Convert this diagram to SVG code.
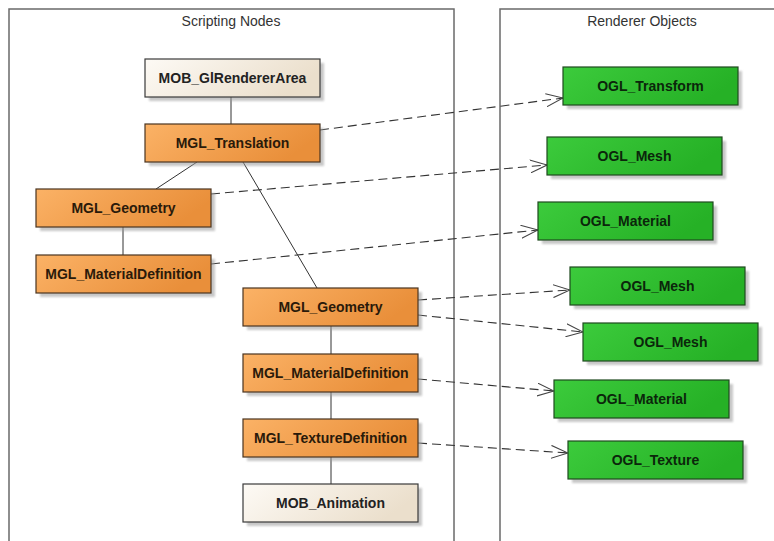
<svg xmlns="http://www.w3.org/2000/svg" width="774" height="541" viewBox="0 0 774 541">
  <defs>
    <linearGradient id="gOrange" x1="0" y1="0" x2="1" y2="0.3">
      <stop offset="0" stop-color="#fbb266"/>
      <stop offset="1" stop-color="#e98f3a"/>
    </linearGradient>
    <linearGradient id="gCream" x1="0" y1="0" x2="1" y2="0.3">
      <stop offset="0" stop-color="#fdfaf5"/>
      <stop offset="1" stop-color="#ebdfcc"/>
    </linearGradient>
    <linearGradient id="gGreen" x1="0" y1="0" x2="1" y2="0.3">
      <stop offset="0" stop-color="#3ccb3c"/>
      <stop offset="1" stop-color="#26b126"/>
    </linearGradient>
    <filter id="soft" x="-10%" y="-10%" width="130%" height="140%">
      <feGaussianBlur stdDeviation="1.2"/>
    </filter>
    <marker id="open" viewBox="0 0 17 14" refX="17" refY="7" markerWidth="17" markerHeight="14" markerUnits="userSpaceOnUse" orient="auto">
      <path d="M0,0.5 L17,7 L0,13.5" fill="none" stroke="#444" stroke-width="1.1"/>
    </marker>
  </defs>
  <style>
    .panel { fill: none; stroke: #6a6a6a; stroke-width: 1.5; }
    .title { font-family: "Liberation Sans Narrow", "Liberation Sans", sans-serif; font-size: 14px; fill: #333; text-anchor: middle; }
    .shadow { fill: #9a9a9a; opacity: 0.55; filter: url(#soft); }
    .orange { fill: url(#gOrange); stroke: #4a3420; stroke-width: 1.2; }
    .cream { fill: url(#gCream); stroke: #3a3a3a; stroke-width: 1.2; }
    .green { fill: url(#gGreen); stroke: #1f4a1f; stroke-width: 1.2; }
    .label { font-family: "Liberation Sans", Arial, sans-serif; font-size: 14px; font-weight: bold; text-anchor: middle; }
    .lo { fill: #2a1a0a; }
    .lc { fill: #222; }
    .lg { fill: #0b260b; }
    .tree { stroke: #333; stroke-width: 1; fill: none; }
    .dep { stroke: #333; stroke-width: 1.1; fill: none; stroke-dasharray: 9 5; marker-end: url(#open); }
  </style>

  <rect width="774" height="541" fill="#ffffff"/>

  <!-- swimlane panels -->
  <g id="panels">
    <rect class="panel" x="9" y="9" width="445" height="545"/>
    <text class="title" x="231" y="26">Scripting Nodes</text>
    <rect class="panel" x="500" y="9" width="290" height="545"/>
    <text class="title" x="642" y="26">Renderer Objects</text>
  </g>

  <!-- connectors -->
  <g id="connectors">
    <line class="tree" x1="231" y1="97" x2="231" y2="124"/>
    <line class="tree" x1="197" y1="162" x2="156" y2="189"/>
    <line class="tree" x1="243" y1="162" x2="317" y2="288"/>
    <line class="tree" x1="123" y1="227" x2="123" y2="255"/>
    <line class="tree" x1="331" y1="326" x2="331" y2="354"/>
    <line class="tree" x1="331" y1="392" x2="331" y2="419"/>
    <line class="tree" x1="331" y1="457" x2="331" y2="484"/>

    <path class="dep" d="M320,130 L563,98"/>
    <path class="dep" d="M211,194 L547,165"/>
    <path class="dep" d="M211,264 L538,230"/>
    <path class="dep" d="M418,300 L570,290"/>
    <path class="dep" d="M418,315 L583,332"/>
    <path class="dep" d="M418,379 L554,391"/>
    <path class="dep" d="M418,443 L568,453"/>
  </g>

  <!-- scripting nodes -->
  <g id="mob-glrendererarea">
    <rect class="shadow" x="149" y="63" width="175" height="38"/>
    <rect class="cream" x="145" y="59" width="175" height="38"/>
    <text class="label lc" x="232.5" y="83">MOB_GlRendererArea</text>
  </g>
  <g id="mgl-translation">
    <rect class="shadow" x="149" y="128" width="175" height="38"/>
    <rect class="orange" x="145" y="124" width="175" height="38"/>
    <text class="label lo" x="232.5" y="148">MGL_Translation</text>
  </g>
  <g id="mgl-geometry-1">
    <rect class="shadow" x="40" y="193" width="175" height="38"/>
    <rect class="orange" x="36" y="189" width="175" height="38"/>
    <text class="label lo" x="123.5" y="213">MGL_Geometry</text>
  </g>
  <g id="mgl-materialdefinition-1">
    <rect class="shadow" x="40" y="259" width="175" height="38"/>
    <rect class="orange" x="36" y="255" width="175" height="38"/>
    <text class="label lo" x="123.5" y="279">MGL_MaterialDefinition</text>
  </g>
  <g id="mgl-geometry-2">
    <rect class="shadow" x="247" y="292" width="175" height="38"/>
    <rect class="orange" x="243" y="288" width="175" height="38"/>
    <text class="label lo" x="330.5" y="312">MGL_Geometry</text>
  </g>
  <g id="mgl-materialdefinition-2">
    <rect class="shadow" x="247" y="358" width="175" height="38"/>
    <rect class="orange" x="243" y="354" width="175" height="38"/>
    <text class="label lo" x="330.5" y="378">MGL_MaterialDefinition</text>
  </g>
  <g id="mgl-texturedefinition">
    <rect class="shadow" x="247" y="423" width="175" height="38"/>
    <rect class="orange" x="243" y="419" width="175" height="38"/>
    <text class="label lo" x="330.5" y="443">MGL_TextureDefinition</text>
  </g>
  <g id="mob-animation">
    <rect class="shadow" x="247" y="488" width="175" height="38"/>
    <rect class="cream" x="243" y="484" width="175" height="38"/>
    <text class="label lc" x="330.5" y="508">MOB_Animation</text>
  </g>

  <!-- renderer objects -->
  <g id="ogl-transform">
    <rect class="shadow" x="567" y="71" width="175" height="38"/>
    <rect class="green" x="563" y="67" width="175" height="38"/>
    <text class="label lg" x="650.5" y="91">OGL_Transform</text>
  </g>
  <g id="ogl-mesh-1">
    <rect class="shadow" x="551" y="141" width="175" height="38"/>
    <rect class="green" x="547" y="137" width="175" height="38"/>
    <text class="label lg" x="634.5" y="161">OGL_Mesh</text>
  </g>
  <g id="ogl-material-1">
    <rect class="shadow" x="542" y="206" width="175" height="38"/>
    <rect class="green" x="538" y="202" width="175" height="38"/>
    <text class="label lg" x="625.5" y="226">OGL_Material</text>
  </g>
  <g id="ogl-mesh-2">
    <rect class="shadow" x="574" y="271" width="175" height="38"/>
    <rect class="green" x="570" y="267" width="175" height="38"/>
    <text class="label lg" x="657.5" y="291">OGL_Mesh</text>
  </g>
  <g id="ogl-mesh-3">
    <rect class="shadow" x="587" y="327" width="175" height="38"/>
    <rect class="green" x="583" y="323" width="175" height="38"/>
    <text class="label lg" x="670.5" y="347">OGL_Mesh</text>
  </g>
  <g id="ogl-material-2">
    <rect class="shadow" x="558" y="384" width="175" height="38"/>
    <rect class="green" x="554" y="380" width="175" height="38"/>
    <text class="label lg" x="641.5" y="404">OGL_Material</text>
  </g>
  <g id="ogl-texture">
    <rect class="shadow" x="572" y="445" width="175" height="38"/>
    <rect class="green" x="568" y="441" width="175" height="38"/>
    <text class="label lg" x="655.5" y="465">OGL_Texture</text>
  </g>
</svg>
